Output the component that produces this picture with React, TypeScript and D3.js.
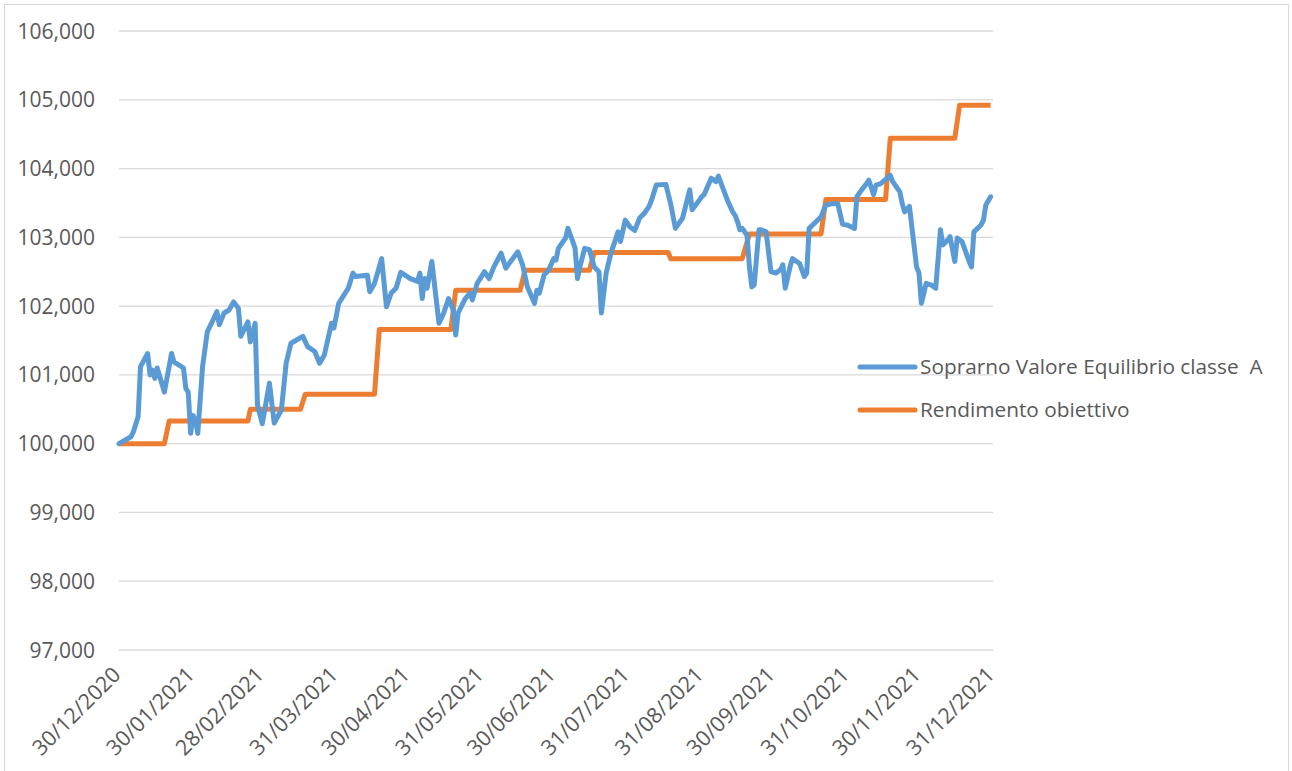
import React from 'react';
import * as d3 from 'd3';

// fund NAV
const fundDates = [
  '2020-12-30', '2021-01-04', '2021-01-05', '2021-01-07', '2021-01-08', '2021-01-11', '2021-01-12', '2021-01-13',
  '2021-01-14', '2021-01-15', '2021-01-18', '2021-01-21', '2021-01-22', '2021-01-26', '2021-01-27', '2021-01-28',
  '2021-01-29', '2021-01-30', '2021-01-31', '2021-02-01', '2021-02-03', '2021-02-05', '2021-02-07', '2021-02-09',
  '2021-02-10', '2021-02-12', '2021-02-14', '2021-02-16', '2021-02-18', '2021-02-19', '2021-02-22', '2021-02-23',
  '2021-02-25', '2021-02-26', '2021-02-28', '2021-03-03', '2021-03-05', '2021-03-08', '2021-03-10', '2021-03-12',
  '2021-03-14', '2021-03-17', '2021-03-19', '2021-03-22', '2021-03-24', '2021-03-26', '2021-03-29', '2021-03-30',
  '2021-04-01', '2021-04-05', '2021-04-07', '2021-04-08', '2021-04-13', '2021-04-14', '2021-04-16', '2021-04-19',
  '2021-04-21', '2021-04-23', '2021-04-25', '2021-04-27', '2021-05-01', '2021-05-04', '2021-05-05', '2021-05-06',
  '2021-05-07', '2021-05-08', '2021-05-10', '2021-05-13', '2021-05-15', '2021-05-17', '2021-05-19', '2021-05-20',
  '2021-05-21', '2021-05-24', '2021-05-26', '2021-05-27', '2021-05-29', '2021-06-01', '2021-06-03', '2021-06-05',
  '2021-06-08', '2021-06-10', '2021-06-12', '2021-06-15', '2021-06-17', '2021-06-19', '2021-06-22', '2021-06-23',
  '2021-06-24', '2021-06-26', '2021-06-28', '2021-06-30', '2021-07-01', '2021-07-02', '2021-07-05', '2021-07-06',
  '2021-07-08', '2021-07-09', '2021-07-10', '2021-07-11', '2021-07-13', '2021-07-15', '2021-07-17', '2021-07-19',
  '2021-07-20', '2021-07-22', '2021-07-24', '2021-07-27', '2021-07-28', '2021-07-30', '2021-08-01', '2021-08-03',
  '2021-08-05', '2021-08-07', '2021-08-09', '2021-08-10', '2021-08-12', '2021-08-16', '2021-08-18', '2021-08-20',
  '2021-08-23', '2021-08-26', '2021-08-27', '2021-08-30', '2021-08-31', '2021-09-01', '2021-09-04', '2021-09-06',
  '2021-09-07', '2021-09-11', '2021-09-13', '2021-09-14', '2021-09-15', '2021-09-16', '2021-09-17', '2021-09-19',
  '2021-09-20', '2021-09-21', '2021-09-22', '2021-09-24', '2021-09-25', '2021-09-27', '2021-09-29', '2021-10-01',
  '2021-10-03', '2021-10-04', '2021-10-05', '2021-10-07', '2021-10-08', '2021-10-11', '2021-10-13', '2021-10-14',
  '2021-10-15', '2021-10-18', '2021-10-20', '2021-10-22', '2021-10-25', '2021-10-27', '2021-10-29', '2021-10-31',
  '2021-11-03', '2021-11-04', '2021-11-06', '2021-11-08', '2021-11-09', '2021-11-11', '2021-11-12', '2021-11-14',
  '2021-11-18', '2021-11-19', '2021-11-22', '2021-11-23', '2021-11-24', '2021-11-26', '2021-11-29', '2021-11-30',
  '2021-12-01', '2021-12-03', '2021-12-05', '2021-12-07', '2021-12-09', '2021-12-10', '2021-12-12', '2021-12-13',
  '2021-12-15', '2021-12-16', '2021-12-18', '2021-12-21', '2021-12-22', '2021-12-23', '2021-12-26', '2021-12-27',
  '2021-12-28', '2021-12-30',
];

const fundValues = [
  100.0, 100.1, 100.17, 100.39, 101.12, 101.31, 101.0, 101.07,
  100.95, 101.1, 100.75, 101.31, 101.19, 101.1, 100.8, 100.75,
  100.15, 100.41, 100.34, 100.15, 101.12, 101.63, 101.77, 101.92,
  101.73, 101.9, 101.94, 102.06, 101.97, 101.56, 101.77, 101.48,
  101.75, 100.56, 100.29, 100.88, 100.3, 100.49, 101.17, 101.46,
  101.5, 101.56, 101.41, 101.34, 101.17, 101.29, 101.75, 101.68,
  102.04, 102.26, 102.48, 102.43, 102.45, 102.21, 102.33, 102.69,
  101.99, 102.19, 102.26, 102.49, 102.4, 102.36, 102.48, 102.11,
  102.4, 102.26, 102.65, 101.75, 101.9, 102.11, 101.94, 101.58,
  101.9, 102.11, 102.19, 102.09, 102.33, 102.5, 102.4, 102.57,
  102.77, 102.55, 102.65, 102.79, 102.6, 102.28, 102.04, 102.23,
  102.19, 102.45, 102.53, 102.69, 102.67, 102.84, 102.99, 103.13,
  102.94, 102.84, 102.4, 102.57, 102.84, 102.82, 102.57, 102.5,
  101.9, 102.48, 102.77, 103.08, 102.94, 103.25, 103.15, 103.1,
  103.28, 103.35, 103.45, 103.54, 103.76, 103.77, 103.49, 103.13,
  103.28, 103.69, 103.4, 103.54, 103.59, 103.62, 103.86, 103.81,
  103.89, 103.52, 103.37, 103.32, 103.23, 103.11, 103.13, 103.03,
  102.57, 102.28, 102.31, 103.11, 103.11, 103.08, 102.5, 102.48,
  102.53, 102.6, 102.26, 102.57, 102.69, 102.62, 102.43, 102.48,
  103.13, 103.23, 103.3, 103.47, 103.49, 103.49, 103.19, 103.18,
  103.13, 103.59, 103.69, 103.78, 103.83, 103.62, 103.76, 103.78,
  103.9, 103.81, 103.66, 103.49, 103.37, 103.45, 102.57, 102.48,
  102.04, 102.33, 102.31, 102.26, 103.11, 102.89, 102.96, 103.01,
  102.65, 102.99, 102.94, 102.65, 102.57, 103.08, 103.18, 103.25,
  103.47, 103.59,
];

// target return: flat levels
const targetStart = [
  '2020-12-30', '2021-01-20', '2021-02-23', '2021-03-18', '2021-04-18', '2021-05-20', '2021-06-18',
  '2021-07-17', '2021-08-18', '2021-09-20', '2021-10-22', '2021-11-18', '2021-12-17',
];
const targetEnd = [
  '2021-01-18', '2021-02-22', '2021-03-16', '2021-04-16', '2021-05-18', '2021-06-16', '2021-07-15',
  '2021-08-17', '2021-09-17', '2021-10-20', '2021-11-16', '2021-12-15', '2021-12-30',
];
const targetValues = [
  100.0, 100.33, 100.5, 100.72, 101.66, 102.23, 102.52, 102.78, 102.69, 103.05, 103.55, 104.44, 104.92,
];

const yTicks = [97, 98, 99, 100, 101, 102, 103, 104, 105, 106];
const xTickLabels = [
  '30/12/2020', '30/01/2021', '28/02/2021', '31/03/2021', '30/04/2021', '31/05/2021', '30/06/2021',
  '31/07/2021', '31/08/2021', '30/09/2021', '31/10/2021', '30/11/2021', '31/12/2021',
];
const seriesNames = ['Soprarno Valore Equilibrio classe  A', 'Rendimento obiettivo'];

const W = 1292;
const H = 771;
const BLUE = '#5B9BD5';
const ORANGE = '#ED7D31';
const TEXT = '#595959';
const FONT = '"Open Sans", sans-serif';

const parseIso = d3.timeParse('%Y-%m-%d');
const parseLabel = d3.timeParse('%d/%m/%Y');

const App = () => {
  const x = d3.scaleTime()
    .domain([parseIso('2020-12-30') as Date, parseIso('2021-12-31') as Date])
    .range([119, 993]);
  const y = d3.scaleLinear().domain([97, 106]).range([650, 31]);

  const fund = fundDates.map((d, i) => ({ date: parseIso(d) as Date, v: fundValues[i] }));
  const target = targetValues.flatMap((v, i) => [
    { date: parseIso(targetStart[i]) as Date, v },
    { date: parseIso(targetEnd[i]) as Date, v },
  ]);

  const line = d3.line<{ date: Date; v: number }>()
    .x((d) => x(d.date))
    .y((d) => y(d.v));

  const fmt = (v: number) => v.toFixed(3).replace('.', ',');

  return (
    <svg width={W} height={H} style={{ position: 'absolute', left: 0, top: 0, background: '#fff' }}>
      <rect x={4.5} y={4.5} width={1284} height={800} fill="#fff" stroke="#D9D9D9" strokeWidth={1} />

      {/* gridlines + y labels */}
      {yTicks.map((t) => (
        <g key={t}>
          <line x1={119} x2={993} y1={y(t)} y2={y(t)} stroke="#D9D9D9" strokeWidth={1.3} />
          <text x={95} y={y(t)} dy="0.36em" textAnchor="end" fill={TEXT}
            style={{ fontFamily: FONT, fontSize: 21 }}>{fmt(t)}</text>
        </g>
      ))}

      {/* x labels, rotated */}
      {xTickLabels.map((l) => {
        const px = x(parseLabel(l) as Date);
        return (
          <text key={l} transform={`translate(${px + 3},${676}) rotate(-45)`} textAnchor="end"
            fill={TEXT} style={{ fontFamily: FONT, fontSize: 21.5 }}>{l}</text>
        );
      })}

      <path d={line(target) || ''} fill="none" stroke={ORANGE} strokeWidth={5} strokeLinejoin="round" />
      <path d={line(fund) || ''} fill="none" stroke={BLUE} strokeWidth={5} strokeLinejoin="round" strokeLinecap="round" />

      {/* legend */}
      {seriesNames.map((name, i) => {
        const ly = 367 + i * 43;
        return (
          <g key={name}>
            <line x1={860} x2={915} y1={ly} y2={ly} stroke={i === 0 ? BLUE : ORANGE} strokeWidth={5} strokeLinecap="round" />
            <text x={920} y={ly} dy="0.36em" fill={TEXT} style={{ fontFamily: FONT, fontSize: 20.8, whiteSpace: 'pre' }}>{name}</text>
          </g>
        );
      })}
    </svg>
  );
};

export default App;
